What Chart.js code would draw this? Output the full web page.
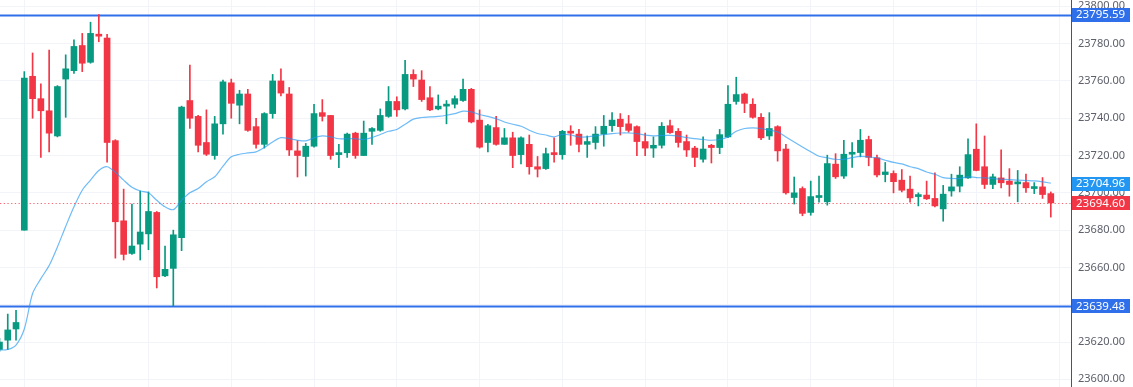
<!DOCTYPE html>
<html>
<head>
<meta charset="utf-8">
<script src="https://cdn.jsdelivr.net/npm/chart.js@4"></script>
<style>
  html, body { margin: 0; padding: 0; background: #fff; overflow: hidden; }
  #wrap { width: 1133px; height: 387px; }
</style>
</head>
<body>
<div id="wrap"><canvas id="candles"></canvas></div>
<script>
// candle values, one entry per bar
const opens = [23616, 23621, 23627, 23680, 23762.5, 23750.5, 23744, 23730.5, 23761, 23765.5,
  23779, 23770, 23784.5, 23783, 23728, 23685, 23667.5, 23672.5, 23678, 23689.5,
  23655.5, 23659.5, 23676, 23749.5, 23741, 23727, 23720, 23737, 23759, 23747,
  23753, 23735.5, 23726, 23742.5, 23760, 23753, 23722.5, 23719.5, 23725, 23743,
  23741.5, 23720.5, 23721.5, 23732, 23720, 23733, 23733.5, 23741, 23749, 23745,
  23763.5, 23760.5, 23751, 23745, 23746.5, 23747.5, 23749.5, 23755.5, 23739, 23727,
  23735, 23726, 23729.5, 23720.5, 23726, 23714, 23713, 23721, 23720.5, 23732.5,
  23731.5, 23726, 23727, 23731.5, 23736, 23739.5, 23737, 23735.5, 23727.5, 23724,
  23725.5, 23736, 23733, 23727.5, 23724, 23718, 23725.5, 23724.3, 23730, 23749,
  23753, 23747.5, 23740.5, 23730.5, 23735.5, 23723.5, 23697.5, 23702.3, 23689.5, 23697.5,
  23695.2, 23715.4, 23709, 23720.7, 23721.6, 23728.6, 23718.8, 23709.8, 23710.4, 23706.8,
  23702, 23698, 23698.8, 23697, 23691.4, 23701, 23703.6, 23708, 23723.4, 23714,
  23704.5, 23708, 23706.3, 23704.8, 23705.5, 23702.3, 23703.2, 23699.6];
const highs = [23622, 23635, 23637, 23765, 23775, 23758.5, 23776.5, 23757.5, 23774, 23782,
  23785.5, 23791.5, 23795.59, 23785, 23728.5, 23702, 23694, 23701, 23700.5, 23690,
  23671.5, 23680, 23746.5, 23768.5, 23741.5, 23744.5, 23741, 23760.5, 23761, 23755,
  23755.5, 23740, 23743, 23763.5, 23766.5, 23756.5, 23728, 23726.5, 23747.5, 23750,
  23741.5, 23726, 23732, 23732.5, 23738.5, 23735, 23745, 23757, 23751.5, 23771,
  23766, 23765.5, 23757, 23752.5, 23749.5, 23752, 23761, 23756, 23744.5, 23736.8,
  23741, 23734.5, 23732.5, 23730, 23731, 23719.5, 23724, 23729.5, 23733.5, 23736,
  23734, 23730.5, 23735.5, 23741.5, 23743, 23742.5, 23741.5, 23736, 23732, 23730,
  23737.7, 23739, 23734.5, 23731, 23725, 23730, 23726, 23734, 23757.5, 23762,
  23753.5, 23750.5, 23742.5, 23743, 23736, 23726, 23708.5, 23703.2, 23706.3, 23709,
  23720.2, 23721, 23728.2, 23727, 23734, 23730.4, 23720.2, 23716.3, 23711.8, 23712.5,
  23709, 23700, 23706.3, 23710.7, 23704, 23710, 23714, 23729, 23737, 23730.5,
  23710, 23723, 23713, 23712, 23710, 23705.5, 23708.2, 23700.5];
const lows = [23615, 23616, 23621, 23680, 23740, 23719, 23722, 23730, 23740.5, 23764,
  23765, 23769.5, 23781, 23716.5, 23665, 23664, 23667, 23664, 23669.5, 23649,
  23655, 23639.48, 23669, 23734.5, 23722, 23720, 23718, 23731.5, 23740, 23737,
  23733, 23724, 23724, 23740, 23752, 23720, 23708.5, 23709, 23724.5, 23738.5,
  23718, 23713.5, 23719, 23718.5, 23720, 23726, 23733, 23740.5, 23741, 23744.5,
  23757, 23749, 23744, 23744.5, 23737, 23745.5, 23749, 23737.5, 23724, 23722,
  23725.5, 23726, 23713.5, 23715.5, 23710, 23708.5, 23712.5, 23716.5, 23718, 23725.5,
  23722, 23719, 23723.5, 23725, 23733, 23731, 23732.5, 23720, 23720, 23719,
  23724, 23731.8, 23724.5, 23719.5, 23714, 23716.5, 23716, 23721, 23729.6, 23747.5,
  23743, 23740, 23728.5, 23728.6, 23717, 23699.3, 23694, 23687.7, 23688, 23695,
  23693.4, 23707.7, 23707.7, 23713.6, 23719.3, 23714.5, 23708.6, 23705.9, 23700, 23700.5,
  23695, 23693, 23696.4, 23692.5, 23684.8, 23698.2, 23700.5, 23707.7, 23711.8, 23702.3,
  23702.3, 23702.7, 23698.2, 23695.2, 23700.2, 23699.6, 23697, 23687];
const closes = [23620, 23626.5, 23630.5, 23761.5, 23750.5, 23744, 23732, 23757, 23766.5, 23778.5,
  23769.5, 23785.5, 23784, 23727, 23684.5, 23667, 23671.5, 23679, 23690, 23655,
  23659, 23677.5, 23746, 23740, 23725.5, 23720.7, 23737, 23759.5, 23748, 23753,
  23733.5, 23726, 23742.5, 23760, 23753.5, 23723, 23720, 23725, 23742.5, 23741,
  23720, 23721.5, 23731.5, 23720, 23732, 23734.5, 23741.5, 23749, 23744.5, 23763.5,
  23761, 23750, 23744.5, 23746.5, 23747.5, 23750.5, 23755.5, 23738, 23724.5, 23736,
  23726, 23729.5, 23720, 23729.5, 23714, 23712.7, 23721, 23720.5, 23733, 23732,
  23726, 23727.5, 23731.5, 23735.7, 23739, 23735.5, 23733.5, 23727.5, 23724, 23725.5,
  23735.7, 23732.3, 23727, 23723, 23719, 23723.5, 23724.3, 23731.2, 23747.5, 23752.7,
  23748, 23740.5, 23729.5, 23734.5, 23722.5, 23700, 23700, 23689, 23698, 23698,
  23715.7, 23708.6, 23720.7, 23721.2, 23728.2, 23719, 23709.6, 23711.2, 23706, 23701.4,
  23697.3, 23698.8, 23696.8, 23693, 23699.3, 23703.2, 23709.5, 23720.5, 23712, 23704.5,
  23708.6, 23705.4, 23704.5, 23705.4, 23702.7, 23703, 23699.1, 23694.6];
// moving average line as drawn on the chart
const maLine = [23615.7, 23616, 23618.4, 23627, 23646, 23654, 23661, 23671, 23682, 23692.5,
  23701.4, 23706.8, 23712, 23714, 23711, 23706.8, 23703, 23701, 23700, 23696,
  23692.5, 23691, 23696, 23700, 23702.3, 23706, 23708.6, 23714.3, 23719.3, 23720.7,
  23721.4, 23722, 23724.3, 23727.3, 23729.6, 23729.1, 23728.2, 23727.9, 23729.5, 23730.5,
  23730, 23729, 23729, 23729, 23728.6, 23729.6, 23731.3, 23733, 23734, 23736.8,
  23739.5, 23740.4, 23740.7, 23741, 23741.6, 23742.5, 23743.8, 23743.4, 23742, 23741,
  23739.8, 23738, 23736.8, 23735.7, 23733.6, 23731.8, 23731, 23730, 23731.4, 23731,
  23730, 23730, 23730.5, 23731.3, 23731.8, 23732.1, 23732.1, 23731.8, 23731, 23730.5,
  23730.8, 23730.8, 23730.4, 23729.6, 23729.1, 23728.6, 23728.2, 23728.6, 23730, 23733,
  23734.5, 23734.8, 23734.5, 23733.6, 23732.7, 23730, 23727.3, 23724.6, 23722, 23719.6,
  23718.8, 23718, 23717.9, 23718.9, 23719.6, 23719.3, 23718.8, 23717.5, 23716.3, 23715.5,
  23714, 23713, 23711.2, 23710, 23708.2, 23707.7, 23707.7, 23708.6, 23708.2, 23708,
  23707.7, 23707.3, 23707.1, 23706.8, 23706.6, 23706.4, 23705.9, 23705.2];
const yTicks = [23600, 23620, 23640, 23660, 23680, 23700, 23720, 23740, 23760, 23780, 23800];
const timeGrid = [3, 18, 28, 38, 48, 58, 68, 78, 88, 98, 108, 118, 128];
// horizontal levels: [price, line colour, tag colour]
const levels = [[23795.59, '#2f6fea', '#2f6fea'], [23639.48, '#2f6fea', '#2f6fea']];
const maLast = 23704.96;
const lastPrice = 23694.60;

const UP = '#089981', DOWN = '#f23645';
const idx = closes.map((c, i) => i);
const colors = idx.map(i => closes[i] >= opens[i] ? UP : DOWN);

const priceTags = {
  id: 'priceTags',
  beforeDatasetsDraw(chart) {
    const { ctx, chartArea, scales: { y } } = chart;
    ctx.save();
    levels.forEach(([p, col]) => {
      const py = Math.round(y.getPixelForValue(p)) + 0.5;
      ctx.strokeStyle = col;
      ctx.lineWidth = 2;
      ctx.beginPath();
      ctx.moveTo(chartArea.left, py);
      ctx.lineTo(chartArea.right, py);
      ctx.stroke();
    });
    // last price, dotted
    const ly = Math.round(y.getPixelForValue(lastPrice)) + 0.5;
    ctx.strokeStyle = 'rgba(242,54,69,0.75)';
    ctx.lineWidth = 1;
    ctx.setLineDash([1.3, 2.4]);
    ctx.beginPath();
    ctx.moveTo(chartArea.left, ly);
    ctx.lineTo(chartArea.right, ly);
    ctx.stroke();
    ctx.restore();
  },
  afterDraw(chart) {
    const { ctx, chartArea, scales: { y } } = chart;
    const tags = levels.map(l => [l[0], l[2]]).concat([[maLast, '#2196f3'], [lastPrice, DOWN]]);
    ctx.save();
    ctx.font = '11.5px "Noto Sans"';
    ctx.textBaseline = 'middle';
    ctx.textAlign = 'left';
    tags.forEach(([p, bg]) => {
      const py = y.getPixelForValue(p);
      ctx.fillStyle = bg;
      ctx.fillRect(chartArea.right + 1, Math.round(py - 7), 58, 14);
      ctx.fillStyle = '#ffffff';
      ctx.fillText(p.toFixed(2), chartArea.right + 5, py + 0.5);
    });
    ctx.restore();
  }
};

const noPad = s => { s.paddingTop = 0; s.paddingBottom = 0; s.paddingLeft = 0; s.paddingRight = 0; };

new Chart(document.getElementById('candles'), {
  type: 'bar',
  data: {
    datasets: [
      {
        // wicks
        data: idx.map(i => ({ x: i, y: [lows[i], highs[i]] })),
        backgroundColor: colors,
        barThickness: 1,
        grouped: false,
        order: 2
      },
      {
        // bodies
        data: idx.map(i => ({ x: i, y: [opens[i], closes[i]] })),
        backgroundColor: colors,
        barThickness: 6,
        minBarLength: 2,
        grouped: false,
        order: 1
      },
      {
        type: 'line',
        data: idx.map(i => ({ x: i, y: maLine[i] })),
        borderColor: 'rgba(33,150,243,0.65)',
        borderWidth: 1.2,
        pointRadius: 0,
        tension: 0.3,
        order: 0
      }
    ]
  },
  plugins: [priceTags],
  options: {
    responsive: true,
    maintainAspectRatio: false,
    animation: false,
    layout: { padding: 0 },
    scales: {
      x: {
        type: 'linear',
        offset: false,
        min: 0.064,
        max: 129.44,
        afterBuildTicks: s => { s.ticks = timeGrid.map(v => ({ value: v })); },
        afterFit: s => { s.height = 0; noPad(s); },
        ticks: { display: false },
        grid: { color: '#f2f4f9', drawTicks: false, offset: false },
        border: { display: false }
      },
      y: {
        position: 'right',
        min: 23595.9,
        max: 23803.4,
        afterBuildTicks: s => { s.ticks = yTicks.map(v => ({ value: v })); },
        afterFit: s => { s.width = 62; noPad(s); },
        ticks: {
          color: '#5d606b',
          padding: 7,
          font: { family: 'Noto Sans', size: 11 },
          callback: v => v.toFixed(2)
        },
        grid: { color: '#f2f4f9', drawTicks: false },
        border: { display: true, color: '#50535e', width: 1 }
      }
    },
    plugins: {
      legend: { display: false },
      tooltip: { enabled: false }
    }
  }
});
</script>
</body>
</html>
